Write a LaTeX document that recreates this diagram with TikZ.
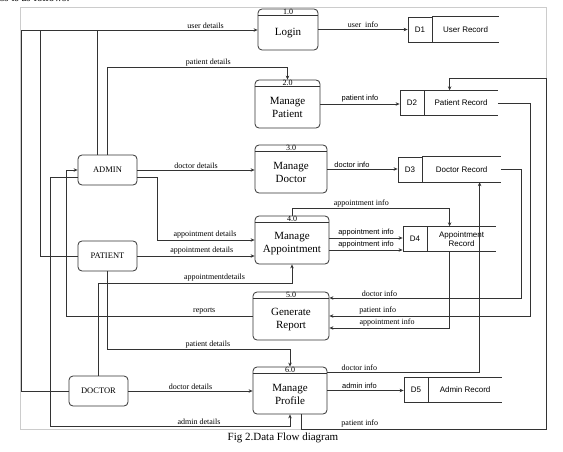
\documentclass[tikz,border=0pt]{standalone}
\usepackage{fontspec}
\setmainfont{Liberation Serif}
\setsansfont{Liberation Sans}
\usetikzlibrary{arrows.meta}

\tikzset{
  line/.style={draw=black!80, line width=0.7pt},
  flow/.style={line, -{Stealth[length=4pt,width=3.5pt]}},
  proc/.style={draw=black!80, line width=0.8pt, rounded corners=4pt},
  entity/.style={draw=black!80, line width=0.8pt, rounded corners=4pt, minimum width=59, minimum height=30, font=\fontsize{8.5}{10}\selectfont},
  storeid/.style={draw=black!80, line width=0.8pt, minimum width=24, minimum height=25, inner sep=0pt, font=\sffamily\fontsize{8}{9}\selectfont},
  storebody/.style={minimum height=25, inner sep=0pt, align=center, font=\sffamily\fontsize{8}{9}\selectfont},
  ptext/.style={align=center, font=\fontsize{11}{13}\selectfont},
  pnum/.style={inner sep=0pt, font=\fontsize{8}{8}\selectfont},
  lbl/.style={inner sep=1.5pt, font=\fontsize{8}{8}\selectfont},
  slbl/.style={inner sep=1.2pt, font=\sffamily\fontsize{7.5}{8}\selectfont},
}

% process: name, centre, width, height, number, text
\newcommand{\dfdproc}[6]{%
  \node[proc, minimum width=#3, minimum height=#4] (#1) at (#2) {};
  \draw[line] ([yshift=-7pt]#1.north west) -- ([yshift=-7pt]#1.north east);
  \node[pnum] (#1num) at ([yshift=-3.5pt]#1.north) {#5};
  \node[ptext] (#1txt) at ([yshift=-3.5pt]#1.center) {#6};
}
% data store: name, centre of id box, id, length, text
\newcommand{\dfdstore}[5]{%
  \node[storeid] (#1id) at (#2) {#3};
  \node[storebody, minimum width=#4, anchor=west] (#1) at (#1id.east) {#5};
  \draw[line] (#1.north west) -- (#1.north east) (#1.south west) -- (#1.south east);
}

\begin{document}
\begin{tikzpicture}[x=1pt, y=-1pt]
	\useasboundingbox (0,0) rectangle (563,452);
	\draw[black!20, line width=0.5pt] (20,7) rectangle (546,429);
	\node[anchor=base west, inner sep=0pt, font=\fontsize{11}{13}\selectfont] (intro) at (0,2) {ss is as follows:};
	
	% processes
	\dfdproc{login}{288,29.5}{60}{41}{1.0}{Login}
	\dfdproc{mpat}{287.5,104}{65}{48}{2.0}{Manage\\Patient}
	\dfdproc{mdoc}{291,169}{72}{48}{3.0}{Manage\\Doctor}
	\dfdproc{mapp}{292,240}{74}{48}{4.0}{Manage\\Appointment}
	\dfdproc{mrep}{291,316}{76}{48}{5.0}{Generate\\Report}
	\dfdproc{mpro}{290,390.5}{74}{47}{6.0}{Manage\\Profile}
	
	% data stores
	\dfdstore{d1}{420,29.5}{D1}{66}{User Record}
	\dfdstore{d2}{412,103}{D2}{73}{Patient Record}
	\dfdstore{d3}{410,169.5}{D3}{78}{Doctor Record}
	\dfdstore{d4}{415,239}{D4}{68}{Appointment\\Record}
	\dfdstore{d5}{416,390}{D5}{73}{Admin Record}
	
	% external entities
	\node[entity] (admin) at (107.5,170) {ADMIN};
	\node[entity] (patient) at (107.5,256) {PATIENT};
	\node[entity] (doctor) at (98.5,391) {DOCTOR};
	
	\coordinate (ud) at (21,30);
	
	% login
	\draw[flow] (doctor.west) -| (ud) -- node[lbl, above, pos=0.78]{user details} (ud -| login.west);
	\draw[line] (patient.west) -- ++(-37,0) |- (ud);
	\draw[line] ([xshift=-10pt]admin.north) |- (ud);
	\draw[flow] (login.east) -- node[lbl, above]{user\ \ info} (login.east -| d1id.west);
	
	% admin
	\draw[flow] (admin.north) |- node[lbl, above, pos=0.78]{patient details} ([yshift=12pt]mpat.north) -- (mpat.north);
	\draw[flow] (admin.east) -- node[lbl, above]{doctor details} (admin.east -| mdoc.west);
	\draw[flow] ([yshift=-7pt]admin.east) -- ++(20,0) |- node[lbl, above, pos=0.745]{appointment details} (mapp.west);
	\draw[flow] ([yshift=-7pt]admin.west) -- ++(-27,0) |- node[lbl, above, pos=0.81]{admin details} ([yshift=-12pt]mpro.south) -- (mpro.south);
	
	% patient, doctor
	\draw[flow] (patient.east) -- node[lbl, above, pos=0.55]{appointment details} (patient.east -| mapp.west);
	\draw[flow] (patient.south) |- node[lbl, above, pos=0.775]{patient details} ([yshift=17pt]mpro.north) -- (mpro.north);
	\draw[flow] (doctor.north) |- node[lbl, above, pos=0.8]{appointmentdetails} ([yshift=-19pt]mapp.south) -- (mapp.south);
	\draw[flow] (doctor.east) -- node[lbl, above]{doctor details} (doctor.east -| mpro.west);
	
	% to the stores
	\draw[flow] (mpat.east) -- node[slbl, above]{patient info} (mpat.east -| d2id.west);
	\draw[flow] (mdoc.east) -- node[slbl, above, pos=0.35]{doctor info} (mdoc.east -| d3id.west);
	\draw[flow] (mapp.north) -- ++(0,-7) -| node[lbl, above, pos=0.22]{appointment info} ([xshift=-12pt]d4.north);
	\draw[flow] ([yshift=2pt]mapp.east) -- node[slbl, above]{appointment info} ([yshift=2pt]mapp.east -| d4id.west);
	\draw[flow] ([yshift=-10pt]mapp.east) -- node[slbl, above]{appointment info} ([yshift=-10pt]mapp.east -| d4id.west);
	\draw[flow] (mpro.east) -- node[slbl, above, pos=0.42]{admin info} (mpro.east -| d5id.west);
	\draw[flow] ([yshift=18pt]mpro.east) -| node[lbl, above, pos=0.105]{doctor info} ([xshift=18pt]d3.south);
	\draw[flow] ([xshift=11pt]mpro.south) -- ++(0,15) -- node[lbl, above, pos=0.24]{patient info} ++(245,0) |- ([xshift=-11.5pt, yshift=12pt]d2.north) -- ([xshift=-11.5pt]d2.north);
	
	% report
	\draw[flow] (d3.east) -- ++(21,0) |- node[lbl, above, pos=0.87]{doctor info} ([yshift=18pt]mrep.east);
	\draw[flow] (d2.east) -- ++(33,0) |- node[lbl, above, pos=0.88]{patient info} (mrep.east);
	\draw[flow] ([xshift=-12pt]d4.south) |- node[lbl, above, pos=0.76]{appointment info} ([yshift=-12pt]mrep.east);
	\draw[flow] (mrep.west) -| node[lbl, above, pos=0.13]{reports} ([xshift=-11pt]admin.west) -- (admin.west);
	
	\node[font=\fontsize{11}{13}\selectfont] (caption) at (283,438) {Fig 2.Data Flow diagram};
\end{tikzpicture}
\end{document}
